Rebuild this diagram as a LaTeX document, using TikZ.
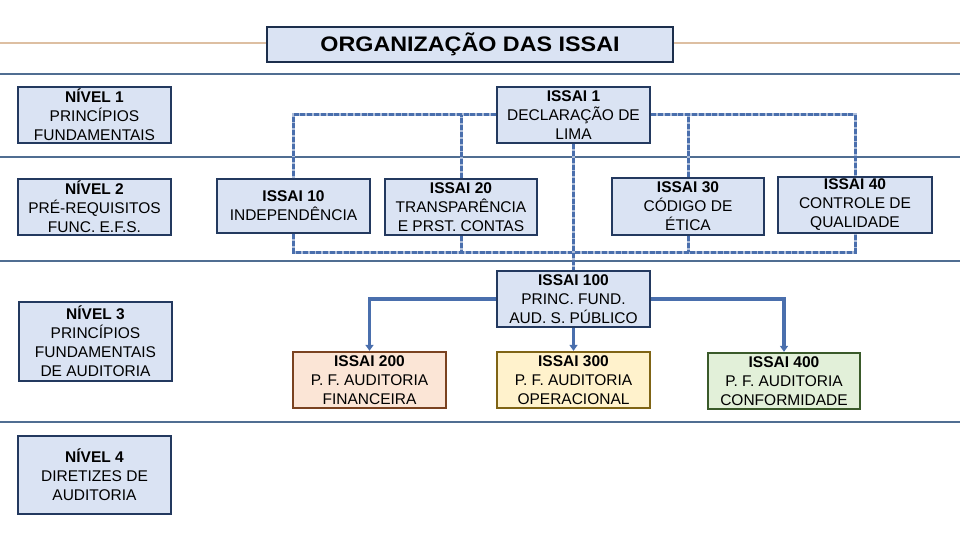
\documentclass[tikz,border=0pt]{standalone}
\usepackage{fontspec}
\setmainfont{Liberation Sans}
\usetikzlibrary{arrows.meta,calc}
\definecolor{bfill}{HTML}{DAE3F3}
\definecolor{bdraw}{HTML}{23395F}
\definecolor{conn}{HTML}{4A6FAD}
\definecolor{sep}{HTML}{506E92}
\definecolor{tan}{HTML}{DDBFA2}
\definecolor{pfill}{HTML}{FBE5D6}
\definecolor{pdraw}{HTML}{7A4220}
\definecolor{yfill}{HTML}{FFF2CC}
\definecolor{ydraw}{HTML}{7F6415}
\definecolor{gfill}{HTML}{E2F0D9}
\definecolor{gdraw}{HTML}{3A5A2A}
\tikzset{
  box/.style={draw=bdraw, fill=bfill, line width=2.3pt, inner sep=0pt,
    align=center, font=\fontsize{15.5}{19}\selectfont,
    minimum width=153pt, minimum height=56pt},
  dash bus/.style={draw=conn, line width=3pt, dash pattern=on 5pt off 1.8pt,
    preaction={draw=conn!45!white, line width=3pt, solid}},
  solid conn/.style={draw=conn, line width=3.2pt, -{Triangle[length=6pt,width=8pt]}},
  seprule/.style={draw=sep, line width=1.2pt},
}
\begin{document}
\begin{tikzpicture}[x=1pt,y=-1pt]
\useasboundingbox (0,0) rectangle (960,540);
% separators
\draw[tan, line width=1.2pt] (0,43) -- (960,43);
\foreach \yy in {74,157,261,422} \draw[seprule] (0,\yy) -- (960,\yy);
% title
\node[box, minimum width=406pt, minimum height=35pt, draw=bdraw!80!black, font=\bfseries\fontsize{21}{24}\selectfont] (title) at (470,44.5) {\scalebox{1.11}[1]{ORGANIZAÇÃO DAS ISSAI}};
% levels
\node[box] (n1) at (94.5,115) {\textbf{NÍVEL 1}\\PRINCÍPIOS\\FUNDAMENTAIS};
\node[box] (n2) at (94.5,207) {\textbf{NÍVEL 2}\\PRÉ-REQUISITOS\\FUNC. E.F.S.};
\node[box, minimum height=79pt] (n3) at (95.5,341.5) {\textbf{NÍVEL 3}\\PRINCÍPIOS\\FUNDAMENTAIS\\DE AUDITORIA};
\node[box, minimum height=78pt] (n4) at (94.5,475) {\textbf{NÍVEL 4}\\DIRETIZES DE\\AUDITORIA};
% ISSAI
\node[box] (i1) at (573.5,115) {\textbf{ISSAI 1}\\DECLARAÇÃO DE\\LIMA};
\node[box, minimum height=54pt] (i10) at (293.5,206) {\textbf{ISSAI 10}\\INDEPENDÊNCIA};
\node[box, minimum width=152pt] (i20) at (461,207) {\textbf{ISSAI 20}\\TRANSPARÊNCIA\\E PRST. CONTAS};
\node[box, minimum width=152pt, minimum height=57pt] (i30) at (688,206.5) {\textbf{ISSAI 30}\\CÓDIGO DE\\ÉTICA};
\node[box, minimum width=154pt] (i40) at (855,205) {\textbf{ISSAI 40}\\CONTROLE DE\\QUALIDADE};
\node[box] (i100) at (573.5,299) {\textbf{ISSAI 100}\\PRINC. FUND.\\AUD. S. PÚBLICO};
\node[box, fill=pfill, draw=pdraw] (i200) at (369.5,380) {\textbf{ISSAI 200}\\P. F. AUDITORIA\\FINANCEIRA};
\node[box, fill=yfill, draw=ydraw] (i300) at (573.5,380) {\textbf{ISSAI 300}\\P. F. AUDITORIA\\OPERACIONAL};
\node[box, fill=gfill, draw=gdraw, minimum width=152pt] (i400) at (784,381) {\textbf{ISSAI 400}\\P. F. AUDITORIA\\CONFORMIDADE};
% dashed buses
\coordinate (bus) at (0,252);
\draw[dash bus] (i1.west) -| (i10.north);
\draw[dash bus] (i20.north) -- (i20.north |- i1.west);
\draw[dash bus] (i1.east) -| (i40.north);
\draw[dash bus] (i30.north) -- (i30.north |- i1.east);
\draw[dash bus] (i10.south) |- (i40.south |- bus) -- (i40.south);
\draw[dash bus] (i20.south) -- (i20.south |- bus);
\draw[dash bus] (i30.south) -- (i30.south |- bus);
\draw[dash bus] (i1.south) -- (i100.north);
% solid arrows
\draw[solid conn] (i100.west) -| (i200.north);
\draw[solid conn] (i100.south) -- (i300.north);
\draw[solid conn] (i100.east) -| (i400.north);
\end{tikzpicture}
\end{document}
